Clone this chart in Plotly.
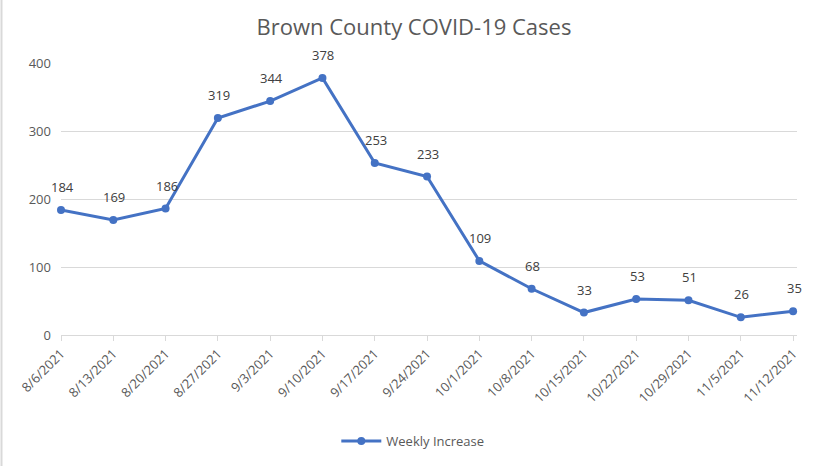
import plotly.graph_objects as go

dates = ["8/6/2021", "8/13/2021", "8/20/2021", "8/27/2021", "9/3/2021", "9/10/2021",
         "9/17/2021", "9/24/2021", "10/1/2021", "10/8/2021", "10/15/2021", "10/22/2021",
         "10/29/2021", "11/5/2021", "11/12/2021"]
weekly_increase = [184, 169, 186, 319, 344, 378, 253, 233, 109, 68, 33, 53, 51, 26, 35]
y_ticks = [0, 100, 200, 300, 400]

W, H = 823, 466
ML, MR, MT, MB = 61, 26, 63, 131
FONT = "Open Sans"
GRAY = "#595959"

xs = list(range(len(dates)))

fig = go.Figure()
fig.add_trace(go.Scatter(
    x=xs, y=weekly_increase,
    mode="lines+markers",
    name="Weekly Increase",
    line=dict(color="#4472C4", width=3),
    marker=dict(color="#4472C4", size=8),
    cliponaxis=False,
))

for xi, v in zip(xs, weekly_increase):
    fig.add_annotation(x=xi, y=v, text=str(v), showarrow=False,
                       yshift=23, xshift=1,
                       font=dict(family=FONT, size=13, color="#404040"))

fig.update_layout(
    width=W, height=H,
    margin=dict(l=ML, r=MR, t=MT, b=MB, autoexpand=False),
    paper_bgcolor="white", plot_bgcolor="white",
    font=dict(family=FONT, color=GRAY, size=13),
    title=dict(text="Brown County COVID-19 Cases", x=0.503, xanchor="center",
               y=1 - 27 / H, yanchor="middle",
               font=dict(family=FONT, size=22, color=GRAY)),
    showlegend=True,
    legend=dict(orientation="h", x=0.478, xanchor="center", itemwidth=40,
                y=-(441 - (H - MB)) / (H - MT - MB), yanchor="middle",
                font=dict(family=FONT, size=13, color=GRAY)),
    xaxis=dict(
        range=[0, 14.075], automargin=False,
        tickmode="array", tickvals=xs, ticktext=dates,
        tickangle=-45, showgrid=False,
        showline=True, linecolor="#d9d9d9", linewidth=1,
        ticks="outside", ticklen=5, tickcolor="#d9d9d9",
        tickfont=dict(family=FONT, size=13, color=GRAY),
        zeroline=False,
    ),
    yaxis=dict(
        range=[0, 400], tickmode="array", tickvals=y_ticks, automargin=False,
        showgrid=True, gridcolor="#d9d9d9", gridwidth=1,
        zeroline=False, showline=False,
        ticklabelstandoff=9,
        tickfont=dict(family=FONT, size=13, color=GRAY),
    ),
)

pw = W - ML - MR
fig.add_shape(type="line", xref="paper", yref="paper",
              x0=(1.5 - ML) / pw, x1=(1.5 - ML) / pw,
              y0=-(H - MT) / (H - MT - MB), y1=1 + MT / (H - MT - MB),
              line=dict(color="#d9d9d9", width=2))

fig.write_html("out.html", config={"displayModeBar": False},
               post_script="document.body.style.margin='0px';document.body.style.padding='0px';")
